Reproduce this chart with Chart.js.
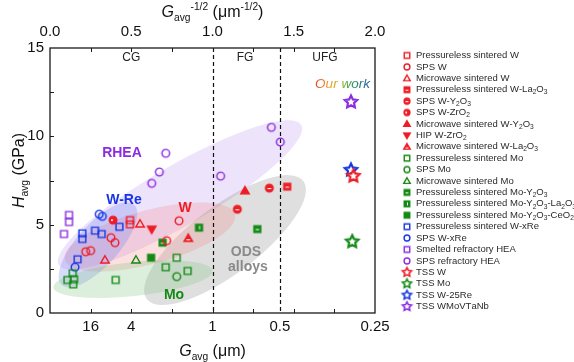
<!DOCTYPE html>
<html>
<head>
<meta charset="utf-8">
<script src="https://cdn.jsdelivr.net/npm/chart.js@4.4.1/dist/chart.umd.min.js"></script>
<style>
  html, body { margin: 0; padding: 0; background: #fff; }
</style>
</head>
<body>
<canvas id="hallPetch" width="574" height="362"></canvas>
<script>
"use strict";

// x = G_avg^-1/2 (um^-1/2), y = H_avg (GPa)
const pressW     = [[0.492, 5.26], [0.492, 5.02]];
const spsW       = [[0.375, 4.26], [0.40, 3.98], [0.22, 3.47], [0.25, 3.53], [0.794, 5.22], [0.718, 4.09]];
const microW     = [[0.338, 3.0], [0.554, 5.04]];
const pressWLa   = [[1.46, 7.15]];
const spsWY      = [[1.153, 5.87], [1.35, 7.07]];
const spsWZr     = [[0.388, 5.26]];
const microWY    = [[1.2, 6.92]];
const hipWZr     = [[0.626, 4.74]];
const microWLa   = [[0.851, 4.23]];
const pressMo    = [[0.140, 2.25], [0.107, 1.87], [0.148, 1.91], [0.143, 1.62], [0.404, 1.87], [0.780, 3.13], [0.712, 2.59], [0.847, 2.38]];
const spsMo      = [[0.780, 2.06]];
const microMo    = [[0.529, 3.0]];
const pressMoY   = [[0.693, 3.98], [1.276, 4.75]];
const pressMoYLa = [[0.917, 4.83]];
const pressMoYCe = [[0.622, 3.13]];
const pressWRe   = [[0.199, 4.51], [0.199, 4.19], [0.277, 4.66], [0.318, 4.47], [0.427, 4.88], [0.170, 3.04]];
const spsWRe     = [[0.303, 5.59], [0.322, 5.47], [0.154, 2.59]];
const smeltHEA   = [[0.117, 5.55], [0.117, 5.15], [0.086, 4.47]];
const spsHEA     = [[0.712, 9.04], [0.673, 7.98], [0.626, 7.34], [1.362, 10.51], [1.417, 9.68], [1.050, 7.75]];
const tssW       = [[1.867, 7.75]];
const tssMo      = [[1.86, 4.04]];
const tssWRe     = [[1.852, 8.09]];
const tssHEA     = [[1.852, 11.94]];

const gLabels   = [16, 4, 1, 0.5, 0.25];      // bottom axis, grain size in um
const topLabels = [0, 0.5, 1, 1.5, 2];

const RED = '#ee1c25', GREEN = '#138a13', BLUE = '#1434e6', PURPLE = '#8c2be0';
const FONT = '"Liberation Sans", Arial, sans-serif';

// shaded groups (centre in data units, radii in px)
const zones = [
  { cx: 0.80, cy: 6.68, a: 140, b: 30, angle: -30, color: 'rgba(185,145,240,0.26)' },
  { cx: 1.077, cy: 4.13, a: 98, b: 34, angle: -37, color: 'rgba(150,150,150,0.30)' },
  { cx: 0.615, cy: 4.30, a: 88, b: 27, angle: -15, color: 'rgba(245,130,130,0.26)' },
  { cx: 0.295, cy: 3.85, a: 54, b: 21, angle: -48, color: 'rgba(110,130,240,0.28)' },
  { cx: 0.511, cy: 1.92, a: 80, b: 17, angle: -6, color: 'rgba(130,195,130,0.28)' }
];
const zoneText = [
  { t: 'RHEA', x: 0.443, y: 9.06, c: PURPLE },
  { t: 'W-Re', x: 0.455, y: 6.40, c: BLUE },
  { t: 'W', x: 0.831, y: 5.94, c: RED },
  { t: 'Mo', x: 0.763, y: 1.02, c: GREEN },
  { t: 'ODS', x: 1.206, y: 3.45, c: '#8a8a8a' },
  { t: 'alloys', x: 1.218, y: 2.60, c: '#8a8a8a' }
];
const regionText = [['CG', 0.5], ['FG', 1.2], ['UFG', 1.692]];

function marker(shape, color, style, px) {
  const s = Math.ceil(px + 5);
  const c = document.createElement('canvas');
  c.width = s; c.height = s;
  const g = c.getContext('2d');
  const m = s / 2, r = px / 2;
  g.strokeStyle = color; g.fillStyle = color;
  g.lineWidth = style === 'star' ? Math.max(1.5, px * 0.17) : 1.4;
  g.lineJoin = 'miter';
  g.beginPath();
  if (shape === 'square') g.rect(m - r * 0.85, m - r * 0.85, r * 1.7, r * 1.7);
  else if (shape === 'circle') g.arc(m, m, r * 0.9, 0, Math.PI * 2);
  else if (shape === 'up') { g.moveTo(m, m - r); g.lineTo(m + r, m + r * 0.72); g.lineTo(m - r, m + r * 0.72); g.closePath(); }
  else if (shape === 'down') { g.moveTo(m, m + r); g.lineTo(m + r, m - r * 0.72); g.lineTo(m - r, m - r * 0.72); g.closePath(); }
  else if (shape === 'star') {
    for (let k = 0; k < 10; k++) {
      const rr = k % 2 ? r * 0.5 : r;
      const an = -Math.PI / 2 + k * Math.PI / 5;
      g.lineTo(m + rr * Math.cos(an), m + rr * Math.sin(an));
    }
    g.closePath();
  }
  if (style === 'open') {
    g.stroke();
  } else if (style === 'star') {
    g.fillStyle = '#fff'; g.fill(); g.stroke();
  } else {
    g.fill(); g.stroke();
    g.strokeStyle = '#fff'; g.fillStyle = '#fff'; g.lineWidth = 1;
    g.beginPath();
    const d = r * 0.45;
    if (style === 'h') { g.moveTo(m - d, m + 0.5); g.lineTo(m + d, m + 0.5); g.stroke(); }
    else if (style === 'v') { g.moveTo(m + 0.5, m - d); g.lineTo(m + 0.5, m + d); g.stroke(); }
    else if (style === 'hb') { g.moveTo(m - d, m + r * 0.35); g.lineTo(m + d, m + r * 0.35); g.stroke(); }
    else if (style === 'dot') { g.arc(m - r * 0.25, m, 1, 0, Math.PI * 2); g.fill(); }
  }
  return c;
}

const series = [
  ['Pressureless sintered W', pressW, 'square', RED, 'open'],
  ['SPS W', spsW, 'circle', RED, 'open'],
  ['Microwave sintered W', microW, 'up', RED, 'open'],
  ['Pressureless sintered W-La₂O₃', pressWLa, 'square', RED, 'h'],
  ['SPS W-Y₂O₃', spsWY, 'circle', RED, 'h'],
  ['SPS W-ZrO₂', spsWZr, 'circle', RED, 'dot'],
  ['Microwave sintered W-Y₂O₃', microWY, 'up', RED, 'fill'],
  ['HIP W-ZrO₂', hipWZr, 'down', RED, 'fill'],
  ['Microwave sintered W-La₂O₃', microWLa, 'up', RED, 'hb'],
  ['Pressureless sintered Mo', pressMo, 'square', GREEN, 'open'],
  ['SPS Mo', spsMo, 'circle', GREEN, 'open'],
  ['Microwave sintered Mo', microMo, 'up', GREEN, 'open'],
  ['Pressureless sintered Mo-Y₂O₃', pressMoY, 'square', GREEN, 'h'],
  ['Pressureless sintered Mo-Y₂O₃-La₂O₃', pressMoYLa, 'square', GREEN, 'v'],
  ['Pressureless sintered Mo-Y₂O₃-CeO₂', pressMoYCe, 'square', GREEN, 'fill'],
  ['Pressureless sintered W-xRe', pressWRe, 'square', BLUE, 'open'],
  ['SPS W-xRe', spsWRe, 'circle', BLUE, 'open'],
  ['Smelted refractory HEA', smeltHEA, 'square', PURPLE, 'open'],
  ['SPS refractory HEA', spsHEA, 'circle', PURPLE, 'open'],
  ['TSS W', tssW, 'star', RED, 'star'],
  ['TSS Mo', tssMo, 'star', GREEN, 'star'],
  ['TSS W-25Re', tssWRe, 'star', BLUE, 'star'],
  ['TSS WMoVTaNb', tssHEA, 'star', PURPLE, 'star']
];

const datasets = series.map(([label, pts, shape, color, style]) => ({
  label,
  data: pts.map(([x, y]) => ({ x, y })),
  pointStyle: marker(shape, color, style, shape === 'star' ? 13 : (shape === 'square' ? 8 : 8.5)),
  legendIcon: marker(shape, color, style, shape === 'star' ? 9.5 : 6.5),
  pointRadius: 5,
  borderColor: color,
  backgroundColor: color
}));

const SUBS = '₀₁₂₃₄₅₆₇₈₉';

function rich(ctx, parts, x, y, size) {
  const fontOf = k => (k === 'i' ? 'italic ' : '') + ((k === 'sub' || k === 'sup') ? size * 0.64 : size) + 'px ' + FONT;
  let w = 0;
  parts.forEach(([t, k]) => { ctx.font = fontOf(k); w += ctx.measureText(t).width; });
  let cx = x - w / 2;
  ctx.textAlign = 'left';
  ctx.textBaseline = 'alphabetic';
  parts.forEach(([t, k]) => {
    ctx.font = fontOf(k);
    const dy = k === 'sub' ? size * 0.28 : (k === 'sup' ? -size * 0.42 : 0);
    ctx.fillText(t, cx, y + dy);
    cx += ctx.measureText(t).width;
  });
}

function legendText(ctx, str, x, y, size) {
  let cx = x;
  ctx.textAlign = 'left';
  ctx.textBaseline = 'middle';
  for (const ch of str) {
    const i = SUBS.indexOf(ch);
    if (i >= 0) {
      ctx.font = (size * 0.7) + 'px ' + FONT;
      ctx.fillText(String(i), cx, y + size * 0.3);
      cx += ctx.measureText(String(i)).width;
    } else {
      ctx.font = size + 'px ' + FONT;
      ctx.fillText(ch, cx, y);
      cx += ctx.measureText(ch).width;
    }
  }
}

const decor = {
  id: 'decor',
  beforeDatasetsDraw(chart) {
    const { ctx, chartArea: a, scales: { x, y } } = chart;
    ctx.save();
    ctx.beginPath();
    ctx.rect(a.left, a.top, a.right - a.left, a.bottom - a.top);
    ctx.clip();
    zones.forEach(z => {
      ctx.save();
      ctx.translate(x.getPixelForValue(z.cx), y.getPixelForValue(z.cy));
      ctx.rotate(z.angle * Math.PI / 180);
      ctx.fillStyle = z.color;
      ctx.beginPath();
      ctx.ellipse(0, 0, z.a, z.b, 0, 0, Math.PI * 2);
      ctx.fill();
      ctx.restore();
    });
    // grain-size class boundaries at 1 um and 0.5 um
    ctx.strokeStyle = '#111';
    ctx.lineWidth = 1.2;
    ctx.setLineDash([4, 3]);
    [1, 0.5].forEach(g => {
      const px = Math.round(x.getPixelForValue(1 / Math.sqrt(g))) + 0.5;
      ctx.beginPath(); ctx.moveTo(px, a.top); ctx.lineTo(px, a.bottom); ctx.stroke();
    });
    ctx.setLineDash([]);
    ctx.textAlign = 'center';
    ctx.textBaseline = 'middle';
    ctx.fillStyle = '#222';
    ctx.font = '12px ' + FONT;
    regionText.forEach(([t, v]) => ctx.fillText(t, x.getPixelForValue(v), y.getPixelForValue(14.43)));
    ctx.font = 'bold 14px ' + FONT;
    zoneText.forEach(z => {
      ctx.fillStyle = z.c;
      ctx.fillText(z.t, x.getPixelForValue(z.x), y.getPixelForValue(z.y));
    });
    ctx.restore();
  },
  afterDraw(chart) {
    const { ctx, chartArea: a, scales: { x, y } } = chart;
    ctx.save();
    ctx.strokeStyle = '#1a1a1a';
    ctx.lineWidth = 1.3;
    ctx.strokeRect(a.left, a.top, a.right - a.left, a.bottom - a.top);
    ctx.lineWidth = 1;
    ctx.beginPath();
    for (let v = 0.25; v < 2; v += 0.25) {
      const px = Math.round(x.getPixelForValue(v)) + 0.5;
      ctx.moveTo(px, a.bottom); ctx.lineTo(px, a.bottom - 4);
      ctx.moveTo(px, a.top); ctx.lineTo(px, a.top + 4);
    }
    for (let v = 2.5; v < 15; v += 2.5) {
      const py = Math.round(y.getPixelForValue(v)) + 0.5;
      ctx.moveTo(a.left, py); ctx.lineTo(a.left + 4, py);
    }
    ctx.stroke();

    // axis titles
    ctx.fillStyle = '#111';
    const mid = (a.left + a.right) / 2;
    rich(ctx, [['G', 'i'], ['avg', 'sub'], ['-1/2', 'sup'], [' (μm', ''], ['-1/2', 'sup'], [')', '']], mid, 17, 16);
    rich(ctx, [['G', 'i'], ['avg', 'sub'], [' (μm)', '']], mid, 356, 16);
    ctx.save();
    ctx.translate(24, (a.top + a.bottom) / 2 - 10);
    ctx.rotate(-Math.PI / 2);
    rich(ctx, [['H', 'i'], ['avg', 'sub'], [' (GPa)', '']], 0, 0, 16);
    ctx.restore();

    // "Our work"
    const ox = x.getPixelForValue(1.8), oy = y.getPixelForValue(12.96);
    ctx.font = 'italic 13.5px ' + FONT;
    const ow = ctx.measureText('Our work').width;
    const grad = ctx.createLinearGradient(ox - ow / 2, 0, ox + ow / 2, 0);
    grad.addColorStop(0, '#e8452c');
    grad.addColorStop(0.25, '#f0a030');
    grad.addColorStop(0.45, '#b8b820');
    grad.addColorStop(0.65, '#2fa050');
    grad.addColorStop(1, '#2a5cb8');
    ctx.fillStyle = grad;
    ctx.textAlign = 'center';
    ctx.textBaseline = 'middle';
    ctx.fillText('Our work', ox, oy);

    // legend
    chart.data.datasets.forEach((ds, i) => {
      const ly = 55.5 + i * 11.41;
      const ic = ds.legendIcon;
      ctx.drawImage(ic, 407 - ic.width / 2, ly - ic.height / 2);
      ctx.fillStyle = '#2a2a2a';
      legendText(ctx, ds.label, 416, ly, 9.5);
    });
    ctx.restore();
  }
};

const tickFont = { family: FONT, size: 15 };

new Chart(document.getElementById('hallPetch'), {
  type: 'scatter',
  data: { datasets },
  options: {
    responsive: false,
    animation: false,
    devicePixelRatio: 1,
    layout: { padding: { left: 0, right: 199, top: 0, bottom: 0 } },
    plugins: { legend: { display: false }, tooltip: { enabled: false } },
    scales: {
      x: {
        type: 'linear', position: 'bottom', min: 0, max: 2,
        grid: { display: false, drawTicks: false }, border: { display: false },
        afterBuildTicks: s => { s.ticks = gLabels.map(g => ({ value: 1 / Math.sqrt(g) })); },
        afterFit: s => { s.height = 49; },
        ticks: { autoSkip: false, maxRotation: 0, padding: 5, color: '#111', font: tickFont,
          callback: (v, i) => String(gLabels[i]) }
      },
      x2: {
        type: 'linear', axis: 'x', position: 'top', min: 0, max: 2,
        grid: { display: false, drawTicks: false }, border: { display: false },
        afterBuildTicks: s => { s.ticks = topLabels.map(v => ({ value: v })); },
        afterFit: s => { s.height = 48; },
        ticks: { autoSkip: false, maxRotation: 0, padding: 7, color: '#111', font: tickFont,
          callback: v => Number(v).toFixed(1) }
      },
      y: {
        type: 'linear', min: 0, max: 15,
        grid: { display: false, drawTicks: false }, border: { display: false },
        afterFit: s => { s.width = 50; },
        ticks: { stepSize: 5, padding: 6, color: '#111', font: tickFont }
      }
    }
  },
  plugins: [decor]
});
</script>
</body>
</html>
